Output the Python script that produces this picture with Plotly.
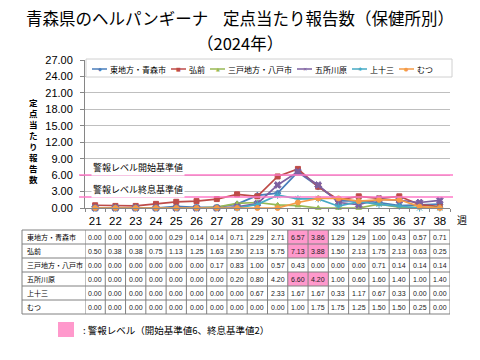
import plotly.graph_objects as go

# ---------------- data ----------------
weeks = list(range(21, 39))
week_labels = [str(w) for w in weeks]

series_names = ["東地方・青森市", "弘前", "三戸地方・八戸市", "五所川原", "上十三", "むつ"]
aomori = [0.00, 0.00, 0.00, 0.00, 0.29, 0.14, 0.14, 0.71, 2.29, 2.71, 6.57, 3.86, 1.29, 1.29, 1.00, 0.43, 0.57, 0.71]
hirosaki = [0.50, 0.38, 0.38, 0.75, 1.13, 1.25, 1.63, 2.50, 2.13, 5.75, 7.13, 3.88, 1.50, 2.13, 1.75, 2.13, 0.63, 0.25]
hachinohe = [0.00, 0.00, 0.00, 0.00, 0.00, 0.00, 0.17, 0.83, 1.00, 0.57, 0.43, 0.00, 0.00, 0.00, 0.71, 0.14, 0.14, 0.14]
goshogawara = [0.00, 0.00, 0.00, 0.00, 0.00, 0.00, 0.00, 0.20, 0.80, 4.20, 6.60, 4.20, 1.00, 0.60, 1.60, 1.40, 1.00, 1.40]
kamitosa = [0.00, 0.00, 0.00, 0.00, 0.00, 0.00, 0.00, 0.00, 0.67, 2.33, 1.67, 1.67, 0.33, 1.17, 0.67, 0.33, 0.00, 0.00]
mutsu = [0.00, 0.00, 0.00, 0.00, 0.00, 0.00, 0.00, 0.00, 0.00, 0.00, 1.00, 1.75, 1.75, 1.25, 1.50, 1.50, 0.25, 0.00]
series_values = [aomori, hirosaki, hachinohe, goshogawara, kamitosa, mutsu]

# cells shown in the warning colour (series name -> weeks)
highlight_cells = {"東地方・青森市": [31, 32], "弘前": [31, 32], "五所川原": [31, 32]}

start_level = 6
end_level = 2
start_label = "警報レベル開始基準値"
end_label = "警報レベル終息基準値"
y_ticks = [0, 3, 6, 9, 12, 15, 18, 21, 24, 27]

# ---------------- styles ----------------
colors = ["#4A7EBB", "#BE4B48", "#98B954", "#7D60A0", "#46AAC5", "#F59B47"]
symbols = ["diamond", "square", "triangle-up", "x", "asterisk-open", "circle"]
legend_glyphs = ["◆", "■", "▲", "✕", "✱", "●"]
pink = "#FF99CC"
pink_line = "#FF7AC8"
grid = "#BFBFBF"
border = "#808080"
JP = "Noto Sans CJK JP"
NUM = "Liberation Sans"

W, H = 480, 360
PL, PR, PT, PB = 85, 450, 60, 208   # plot area in pixels


def px(x):
    return (x - PL) / (PR - PL)


def py(y):
    return (PB - y) / (PB - PT)


fig = go.Figure()
for name, vals, c, s in zip(series_names, series_values, colors, symbols):
    fig.add_trace(go.Scatter(
        x=weeks, y=vals, name=name, mode="lines+markers",
        line=dict(color=c, width=1.7),
        marker=dict(symbol=s, size=5 if s not in ("x", "asterisk-open") else 6,
                    color=c, line=dict(color=c, width=1)),
        showlegend=False, cliponaxis=False,
    ))

shapes = []
annotations = []

# threshold lines
for lvl in (start_level, end_level):
    shapes.append(dict(type="line", xref="paper", yref="y", x0=px(79), x1=px(453),
                       y0=lvl, y1=lvl, line=dict(color=pink_line, width=1.5), layer="above"))
annotations.append(dict(xref="paper", yref="paper", x=px(91), y=py(167.5), text=start_label,
                        showarrow=False, xanchor="left", yanchor="middle", bgcolor="white",
                        font=dict(family=JP, size=9, color="#000")))
annotations.append(dict(xref="paper", yref="paper", x=px(91), y=py(189.5), text=end_label,
                        showarrow=False, xanchor="left", yanchor="middle", bgcolor="white",
                        font=dict(family=JP, size=9, color="#000")))

# legend box at top
shapes.append(dict(type="rect", xref="paper", yref="paper", x0=px(86), x1=px(452), y0=py(77), y1=py(59),
                   fillcolor="white", line=dict(color="#D0D0D0", width=1), layer="above"))
lx = 92
ly = py(69)
lfs = 8
for name, c, g in zip(series_names, colors, legend_glyphs):
    shapes.append(dict(type="line", xref="paper", yref="paper", x0=px(lx), x1=px(lx + 15),
                       y0=ly, y1=ly, line=dict(color=c, width=1.5), layer="above"))
    annotations.append(dict(xref="paper", yref="paper", x=px(lx + 7.5), y=ly, text=g, showarrow=False,
                            xanchor="center", yanchor="middle",
                            font=dict(family="DejaVu Sans", size=5, color=c)))
    annotations.append(dict(xref="paper", yref="paper", x=px(lx + 16), y=ly, text=name, showarrow=False,
                            xanchor="left", yanchor="middle",
                            font=dict(family=JP, size=lfs, color="#000")))
    lx += 16 + len(name) * lfs + 7

# y axis title (vertical)
ytitle = "定点当たり報告数"
for i, ch in enumerate(ytitle):
    annotations.append(dict(xref="paper", yref="paper", x=px(33), y=py(102 + i * 11.05), text="<b>" + ch + "</b>",
                            showarrow=False, xanchor="center", yanchor="middle",
                            font=dict(family=JP, size=8.5, color="#000")))

# "週" unit
annotations.append(dict(xref="paper", yref="paper", x=px(462), y=py(219), text="週", showarrow=False,
                        xanchor="center", yanchor="middle", font=dict(family=JP, size=10, color="#000")))

# title
annotations.append(dict(xref="paper", yref="paper", x=px(24), y=py(18), text="青森県のヘルパンギーナ",
                        showarrow=False, xanchor="left", yanchor="middle",
                        font=dict(family=JP, size=16.5, color="#000")))
annotations.append(dict(xref="paper", yref="paper", x=px(456), y=py(18), text="定点当たり報告数（保健所別）",
                        showarrow=False, xanchor="right", yanchor="middle",
                        font=dict(family=JP, size=16.5, color="#000")))
annotations.append(dict(xref="paper", yref="paper", x=px(240), y=py(43), text="（2024年）",
                        showarrow=False, xanchor="center", yanchor="middle",
                        font=dict(family=JP, size=16.5, color="#000")))

# ---------------- data table ----------------
T_TOP, ROW_H = 230, 14
T_LEFT = 22
nrows = len(series_names)
# highlighted cells
for r, name in enumerate(series_names):
    for w in highlight_cells.get(name, []):
        shapes.append(dict(type="rect", xref="x", yref="paper", x0=w - 0.5, x1=w + 0.5,
                           y0=py(T_TOP + r * ROW_H), y1=py(T_TOP + (r + 1) * ROW_H),
                           fillcolor=pink, line=dict(width=0), layer="above"))
# horizontal lines
for r in range(nrows + 1):
    shapes.append(dict(type="line", xref="paper", yref="paper", x0=px(T_LEFT), x1=px(PR),
                       y0=py(T_TOP + r * ROW_H), y1=py(T_TOP + r * ROW_H),
                       line=dict(color=border, width=1), layer="above"))
# vertical lines
shapes.append(dict(type="line", xref="paper", yref="paper", x0=px(T_LEFT), x1=px(T_LEFT),
                   y0=py(T_TOP), y1=py(T_TOP + nrows * ROW_H), line=dict(color=border, width=1), layer="above"))
for k in range(len(weeks) + 1):
    xv = weeks[0] - 0.5 + k
    shapes.append(dict(type="line", xref="x", yref="paper", x0=xv, x1=xv,
                       y0=py(T_TOP), y1=py(T_TOP + nrows * ROW_H), line=dict(color=border, width=1), layer="above"))
# cell texts
for r, (name, vals) in enumerate(zip(series_names, series_values)):
    yc = py(T_TOP + r * ROW_H + ROW_H / 2)
    annotations.append(dict(xref="paper", yref="paper", x=px(25), y=yc, text=name, showarrow=False,
                            xanchor="left", yanchor="middle", font=dict(family=JP, size=7, color="#000")))
    for w, v in zip(weeks, vals):
        annotations.append(dict(xref="x", yref="paper", x=w, y=yc, text=f"{v:.2f}", showarrow=False,
                                xanchor="center", yanchor="middle",
                                font=dict(family=NUM, size=7, color="#222")))

# bottom key
shapes.append(dict(type="rect", xref="paper", yref="paper", x0=px(58), x1=px(74), y0=py(337), y1=py(322),
                   fillcolor=pink, line=dict(width=0)))
annotations.append(dict(xref="paper", yref="paper", x=px(81), y=py(330), text=": 警報レベル（開始基準値6、終息基準値2）",
                        showarrow=False, xanchor="left", yanchor="middle",
                        font=dict(family=JP, size=9.5, color="#000")))

fig.update_layout(
    width=W, height=H, autosize=False,
    margin=dict(l=PL, r=W - PR, t=PT, b=H - PB, pad=0),
    paper_bgcolor="white", plot_bgcolor="white",
    showlegend=False, hovermode=False,
    shapes=shapes, annotations=annotations,
    font=dict(family=NUM, color="#000"),
)
fig.update_xaxes(
    range=[weeks[0] - 0.5, weeks[-1] + 0.5], tickmode="array", tickvals=weeks, ticktext=week_labels,
    showgrid=False, zeroline=False, showline=True, linecolor="#868686", linewidth=1,
    ticks="", tickfont=dict(family=NUM, size=11.5, color="#000"), ticklabelstandoff=2,
    minor=dict(tickmode="array", tickvals=[w - 0.5 for w in weeks] + [weeks[-1] + 0.5],
               ticks="outside", ticklen=3, tickcolor="#868686"),
)
fig.update_yaxes(
    range=[0, 27], tickmode="array", tickvals=y_ticks, ticktext=[f"{v:.2f}" for v in y_ticks],
    showgrid=True, gridcolor=grid, gridwidth=1, zeroline=False,
    showline=True, linecolor="#868686", linewidth=1,
    ticks="outside", ticklen=4, tickcolor="#868686",
    tickfont=dict(family=NUM, size=11, color="#000"), ticklabelstandoff=5,
)

fig.write_html("out.html", config={"displayModeBar": False, "staticPlot": True},
               post_script="document.body.style.margin='0';document.body.style.overflow='hidden';")
